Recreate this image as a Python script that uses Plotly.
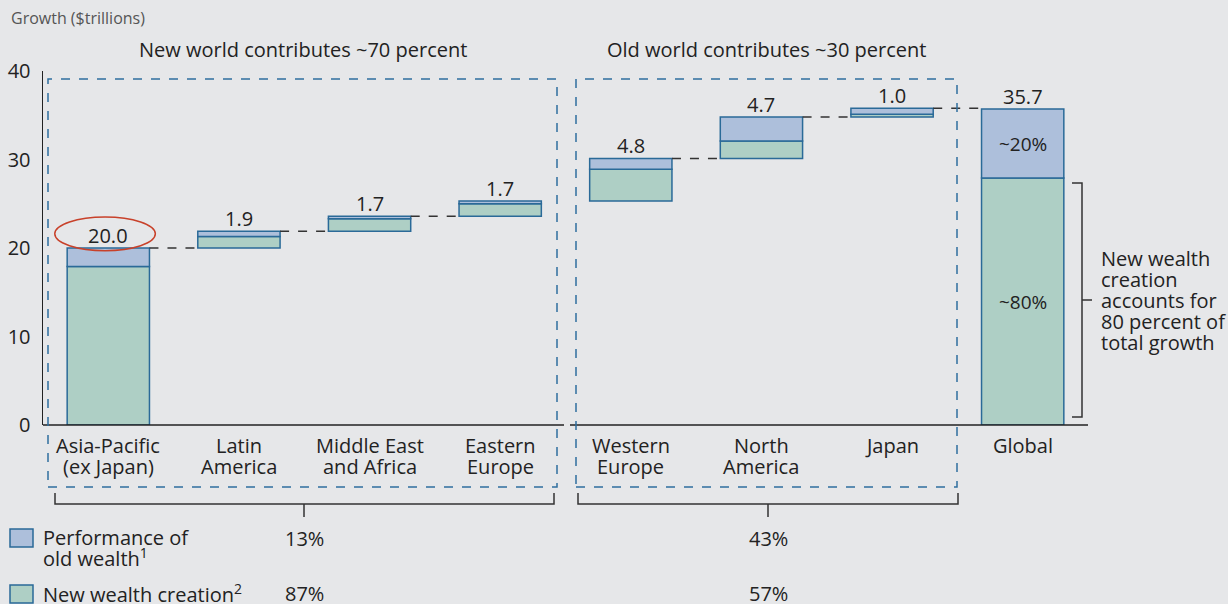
import plotly.graph_objects as go

# ---- data ----
categories = [["Asia-Pacific", "(ex Japan)"], ["Latin", "America"], ["Middle East", "and Africa"],
              ["Eastern", "Europe"], ["Western", "Europe"], ["North", "America"], ["Japan"], ["Global"]]
new_wealth = [17.9, 1.3, 1.4, 1.4, 3.6, 2.0, 0.3, 27.9]   # green, bottom segment
old_wealth = [2.1, 0.6, 0.3, 0.3, 1.2, 2.7, 0.7, 7.8]     # blue, top segment
totals = ["20.0", "1.9", "1.7", "1.7", "4.8", "4.7", "1.0", "35.7"]
global_shares = ["~20%", "~80%"]
group_titles = ["New world contributes ~70 percent", "Old world contributes ~30 percent"]
group_old_pct = ["13%", "43%"]
group_new_pct = ["87%", "57%"]
note_lines = ["New wealth", "creation", "accounts for", "80 percent of", "total growth"]
legend_old = ["Performance of", "old wealth<sup>1</sup>"]
legend_new = "New wealth creation<sup>2</sup>"
y_ticks = [0, 10, 20, 30, 40]

# ---- waterfall bases ----
bases = []
run = 0.0
for i in range(len(categories)):
    if i == len(categories) - 1:
        bases.append(0.0)
    else:
        bases.append(run)
        run += new_wealth[i] + old_wealth[i]
tops = [b + n + o for b, n, o in zip(bases, new_wealth, old_wealth)]
xs = list(range(len(categories)))

BG = "#e6e7e9"
BLUE = "#adbfdb"
GREEN = "#aecfc5"
EDGE = "#2a6a98"
BOX = "#2f6f9f"
TXT = "#222222"
FONT = "Open Sans"
FS = 20
BW = 0.63

fig = go.Figure()
fig.add_trace(go.Bar(x=xs, y=new_wealth, base=bases, width=BW,
                     marker=dict(color=GREEN, line=dict(color=EDGE, width=1.5)),
                     name="New wealth creation", showlegend=False, hoverinfo="skip"))
fig.add_trace(go.Bar(x=xs, y=old_wealth, base=[b + n for b, n in zip(bases, new_wealth)], width=BW,
                     marker=dict(color=BLUE, line=dict(color=EDGE, width=1.5)),
                     name="Performance of old wealth", showlegend=False, hoverinfo="skip"))

# figure fills the page (body margin removed in post_script)
FW, FH = 1228, 604
# plot area in page pixels
L, R, T, B = 43, 1088, 71, 425
W, H = R - L, B - T
def px(x):
    return (x - L) / W
def py(y):
    return (B - y) / H

shapes = []
annotations = []
def txt(x, y, t, xanchor="center", size=FS, color=TXT, xref="paper"):
    annotations.append(dict(x=x, y=py(y), xref=xref, yref="paper", xanchor=xanchor, yanchor="middle",
                            align="left" if xanchor == "left" else "center", showarrow=False, text=t,
                            font=dict(size=size, color=color, family=FONT)))

# connectors
for i in [0, 1, 2, 4, 5, 6]:
    shapes.append(dict(type="line", xref="x", yref="y", x0=i + BW / 2, x1=i + 1 - BW / 2,
                       y0=tops[i], y1=tops[i], line=dict(color="#333333", width=1.5, dash="dash")))

# value labels
for i, t in enumerate(totals):
    annotations.append(dict(x=i, y=tops[i], xref="x", yref="y", text=t, showarrow=False,
                            yanchor="middle", yshift=13, font=dict(size=FS, color=TXT, family=FONT)))

# category labels (two lines each)
for i, lines in enumerate(categories):
    for k, line in enumerate(lines):
        txt(i, 445 + 21 * k, line, xref="x")

# global share labels
g = len(categories) - 1
annotations.append(dict(x=g, y=new_wealth[g] + old_wealth[g] / 2, xref="x", yref="y", text=global_shares[0],
                        showarrow=False, font=dict(size=FS - 1, color=TXT, family=FONT)))
annotations.append(dict(x=g, y=new_wealth[g] / 2, xref="x", yref="y", text=global_shares[1],
                        showarrow=False, font=dict(size=FS - 1, color=TXT, family=FONT)))

# red ellipse around 20.0
shapes.append(dict(type="circle", xref="x", yref="y", x0=-0.41, x1=0.36, y0=19.7, y1=23.5,
                   line=dict(color="#c8412a", width=1.5)))

# x axis line with break
shapes.append(dict(type="line", xref="paper", yref="paper", x0=px(43), x1=px(564), y0=0, y1=0,
                   line=dict(color=TXT, width=1.5)))
shapes.append(dict(type="line", xref="paper", yref="paper", x0=px(570), x1=px(1088), y0=0, y1=0,
                   line=dict(color=TXT, width=1.5)))

# dashed group boxes
for x0, x1 in [(48, 557), (576, 957)]:
    shapes.append(dict(type="rect", xref="paper", yref="paper", x0=px(x0), x1=px(x1),
                       y0=py(487), y1=py(79), line=dict(color=BOX, width=1.5, dash="dash")))

# braces under groups
for x0, x1, xc in [(55, 554, 304), (578, 958, 768)]:
    path = (f"M {px(x0)},{py(493)} L {px(x0)},{py(504)} L {px(x1)},{py(504)} L {px(x1)},{py(493)} "
            f"M {px(xc)},{py(504)} L {px(xc)},{py(517)}")
    shapes.append(dict(type="path", xref="paper", yref="paper", path=path,
                       line=dict(color="#333333", width=1.5)))

# right bracket + note
path = (f"M {px(1072)},{py(183)} L {px(1082)},{py(183)} L {px(1082)},{py(417)} L {px(1072)},{py(417)} "
        f"M {px(1082)},{py(300)} L {px(1092)},{py(300)}")
shapes.append(dict(type="path", xref="paper", yref="paper", path=path, line=dict(color="#333333", width=1.5)))
for k, line in enumerate(note_lines):
    txt(px(1099), 258 + 21 * k, line, xanchor="left")

# titles
txt(px(9), 18, "Growth ($trillions)", xanchor="left", size=16, color="#555555")
for xc, t in zip([303, 766], group_titles):
    txt(px(xc), 49, t)

# legend (manual) + group percentages
for (y0, y1, col) in [(529, 547, BLUE), (585, 603, GREEN)]:
    shapes.append(dict(type="rect", xref="paper", yref="paper", x0=px(10), x1=px(33), y0=py(y1), y1=py(y0),
                       fillcolor=col, line=dict(color=EDGE, width=1.5)))
txt(px(41), 537, legend_old[0], xanchor="left")
txt(px(41), 557, legend_old[1], xanchor="left")
txt(px(41), 593, legend_new, xanchor="left")
for xc, o, n in zip([304, 768], group_old_pct, group_new_pct):
    txt(px(xc), 538, o)
    txt(px(xc), 593, n)

fig.update_layout(
    width=FW, height=FH,
    margin=dict(l=L, r=FW - R, t=T, b=FH - B, pad=0, autoexpand=False),
    paper_bgcolor=BG, plot_bgcolor=BG,
    barmode="overlay", bargap=0,
    font=dict(family=FONT, color=TXT, size=FS),
    shapes=shapes, annotations=annotations,
    xaxis=dict(range=[-0.5, len(categories) - 0.5], showticklabels=False, automargin=False,
               showline=False, showgrid=False, zeroline=False, ticks="", fixedrange=True),
    yaxis=dict(range=[0, 40], tickvals=y_ticks, showline=True, linecolor=TXT, linewidth=1.5,
               showgrid=False, zeroline=False, ticks="", ticklabelstandoff=7, automargin=False,
               tickfont=dict(size=FS, color=TXT, family=FONT), fixedrange=True),
)

fig.write_html("out.html",
               config={"displayModeBar": False, "staticPlot": True},
               post_script="document.body.style.margin='0px';"
                           "document.body.style.background='#e6e7e9';"
                           "document.body.style.overflow='hidden';")
